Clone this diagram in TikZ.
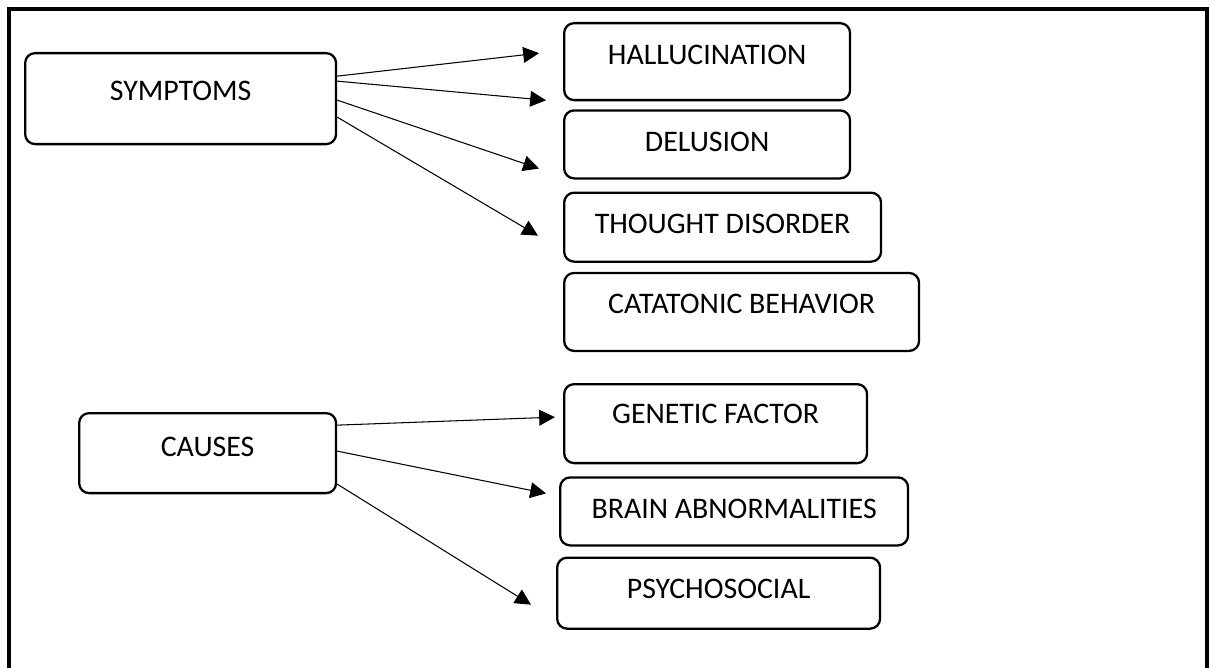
\documentclass[tikz,border=0pt]{standalone}
\usepackage{fontspec}
\setmainfont{Carlito}
\usetikzlibrary{arrows.meta,positioning}

\begin{document}
\begin{tikzpicture}[x=0.02cm,y=-0.02cm,shorten >=0pt,
        >={Triangle[length=9pt,width=9pt]}]
        \tikzstyle{every node}=[font=\fontsize{17}{20}\selectfont]
        \tikzstyle{blk}=[draw,line width=1.3pt,rounded corners=0.2cm,inner xsep=0pt,inner ysep=0pt,
                         text height=0.82cm,anchor=north west]
        \useasboundingbox (0,0) rectangle (1212,668);
        \draw[line width=1.8pt] (9,668) |- (1207,9) -- (1207,668);

        \begin{scope}
          \node[blk,minimum width=6.22cm,text height=0.94cm,text depth=0.88cm] (sym) at (24,52) {SYMPTOMS};

          \node[blk,minimum width=5.72cm,text depth=0.72cm] (hal) at (563,22) {HALLUCINATION};
          \node[blk,minimum width=5.72cm,text depth=0.54cm,below=0.16cm of hal.south west,anchor=north west] (del) {DELUSION};
          \node[blk,minimum width=6.34cm,text depth=0.56cm,below=0.24cm of del.south west,anchor=north west] (tho) {THOUGHT DISORDER};
          \node[blk,minimum width=7.10cm,text depth=0.74cm,below=0.18cm of tho.south west,anchor=north west] (cat) {CATATONIC BEHAVIOR};

          \path[->,line width=0.6pt]
          ([yshift=0.45cm]sym.east)  edge ([xshift=-0.48cm,yshift=0.17cm]hal.west)
          ([yshift=0.35cm]sym.east)  edge ([xshift=-0.34cm,yshift=0.02cm]hal.south west)
          ([yshift=-0.03cm]sym.east) edge ([xshift=-0.48cm,yshift=0.22cm]del.south west)
          ([yshift=-0.37cm]sym.east) edge ([xshift=-0.50cm,yshift=-0.17cm]tho.west);
        \end{scope}

        \begin{scope}
          \node[blk,minimum width=5.14cm,text height=0.87cm,text depth=0.73cm] (cau) at (78,412) {CAUSES};

          \node[blk,minimum width=6.06cm,text height=0.79cm,text depth=0.79cm] (gen) at (563,383) {GENETIC FACTOR};
          \node[blk,minimum width=6.96cm,text depth=0.54cm,below=0.24cm of gen.south west,anchor=north west,xshift=-0.08cm] (bra) {BRAIN ABNORMALITIES};
          \node[blk,minimum width=6.46cm,text depth=0.60cm,below=0.20cm of bra.south west,anchor=north west,xshift=-0.06cm] (psy) {PSYCHOSOCIAL};

          \path[->,line width=0.6pt]
          ([yshift=0.56cm]cau.east)  edge ([xshift=-0.16cm,yshift=0.13cm]gen.west)
          ([yshift=0.04cm]cau.east)  edge ([xshift=-0.26cm,yshift=0.36cm]bra.west)
          ([yshift=-0.62cm]cau.east) edge ([xshift=-0.50cm,yshift=-0.23cm]psy.west);
        \end{scope}
\end{tikzpicture}
\end{document}
